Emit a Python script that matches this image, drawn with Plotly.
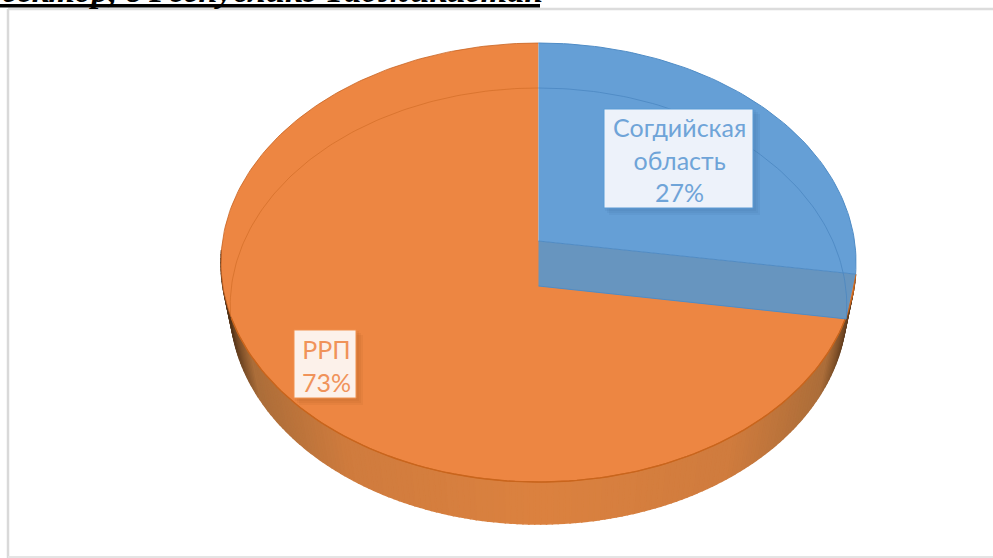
import numpy as np
import plotly.graph_objects as go

# data
categories = ["Согдийская<br>область", "РРП"]
shares = [27.4, 72.6]
heading = "сектор, в Республике Таджикистан"

BLUE = "#659fd6"
BLUE_BAND = "#6795bf"
ORANGE = "#ed8642"
RIM = "#c9651c"
WIDTH, HEIGHT = 993, 558
CX = 538.5


def make_face(y_far, y_mid, y_near, radius):
    """Perspective map of a unit disc to the page, returns theta -> x, y"""
    c = (2 * y_mid - y_far - y_near) / (y_far - y_near)
    a = y_far * (1 + c) - y_mid

    def face(theta_deg):
        t = np.radians(theta_deg)
        u, v = np.sin(t), np.cos(t)
        den = 1 + c * v
        return CX + radius * u / den, (a * v + y_mid) / den

    face.centre = (CX, y_mid)
    return face


top_face = make_face(43, 241, 482, 316)
low_face = make_face(88, 286, 524, 307)
split = shares[0] * 3.6
WALL_END = 268


def lerp_hex(c1, c2, t):
    a = [int(c1[i:i + 2], 16) for i in (1, 3, 5)]
    b = [int(c2[i:i + 2], 16) for i in (1, 3, 5)]
    return "rgb(%d,%d,%d)" % tuple(a[i] + (b[i] - a[i]) * t for i in range(3))


def wall_colour(x):
    # dark towards the two ends of the side wall
    t = abs(x - CX) / 310
    if t < 0.6:
        return lerp_hex("#dc8240", "#d07c3e", t / 0.6)
    if t < 0.9:
        return lerp_hex("#d07c3e", "#ac6e3a", (t - 0.6) / 0.3)
    return lerp_hex("#ac6e3a", "#4a2e16", min((t - 0.9) / 0.1, 1))


fig = go.Figure()


def add_poly(xs, ys, fill, line=None, width=0):
    fig.add_trace(go.Scatter(
        x=xs, y=ys, mode="lines", fill="toself", fillcolor=fill,
        line=dict(color=line or fill, width=width),
        showlegend=False, hoverinfo="skip",
    ))


def add_line(xs, ys, colour, width=1):
    fig.add_trace(go.Scatter(
        x=xs, y=ys, mode="lines", line=dict(color=colour, width=width),
        showlegend=False, hoverinfo="skip",
    ))


# side wall, cut in narrow strips to get the shading
steps = np.arange(split, WALL_END, 1.0)
for t0, t1 in zip(steps[:-1], steps[1:]):
    x0, y0 = top_face(t0)
    x1, y1 = top_face(t1)
    x2, y2 = low_face(t1)
    x3, y3 = low_face(t0)
    col = wall_colour((x2 + x3) / 2)
    add_poly([x0, x1, x2, x3, x0], [y0, y1, y2, y3, y0], col, col, 1.5)

# top of the orange slice
th = np.linspace(split, 360, 240)
ax, ay = top_face(th)
add_poly(np.r_[top_face.centre[0], ax, top_face.centre[0]],
         np.r_[top_face.centre[1], ay, top_face.centre[1]], ORANGE)
add_line(ax, ay, "rgba(200,100,35,0.8)", 1)
add_line(*top_face(np.linspace(split, 250, 120)), RIM, 1.4)
add_line(*low_face(np.linspace(262, 360, 100)), "rgba(205,105,35,0.6)", 1)

# top of the blue slice
th = np.linspace(0, split, 80)
ax, ay = top_face(th)
add_poly(np.r_[top_face.centre[0], ax, top_face.centre[0]],
         np.r_[top_face.centre[1], ay, top_face.centre[1]], BLUE)
add_line(ax, ay, "#4f8cc6", 1)

# cut face of the blue slice seen through the top
tx, ty = top_face(split)
lx, ly = low_face(split)
add_poly([top_face.centre[0], tx, lx, low_face.centre[0], top_face.centre[0]],
         [top_face.centre[1], ty, ly, low_face.centre[1], top_face.centre[1]],
         BLUE_BAND)
add_line([top_face.centre[0], tx], [top_face.centre[1], ty], "#4f8cc6", 1)
add_line([low_face.centre[0], lx], [low_face.centre[1], ly], "#4f8cc6", 1)
add_line(*low_face(np.linspace(0, split, 80)), "rgba(74,134,192,0.75)", 1)

shapes = [
    dict(type="line", x0=8, x1=8, y0=9, y1=HEIGHT, line=dict(color="#d9d9d9", width=2.5)),
    dict(type="line", x0=8, x1=WIDTH, y0=9, y1=9, line=dict(color="#dcdcdc", width=2.5)),
    dict(type="line", x0=8, x1=WIDTH, y0=557, y1=557, line=dict(color="#e4e4e4", width=2)),
    dict(type="rect", x0=0, x1=540, y0=4, y1=7.5, fillcolor="black", line=dict(width=0)),
]

label_boxes = [
    dict(box=(604, 109, 753, 208), fill="#edf2fa", edge="#5b9bd5", text="#6fa4d8",
         shadow="rgba(60,110,160,0.10)", size=25),
    dict(box=(294, 330, 356, 398), fill="#fcf1ea", edge="#f0914f", text="#f0935a",
         shadow="rgba(170,85,30,0.10)", size=25),
]

annotations = [dict(
    text="<b><i>%s</i></b>" % heading, x=0, y=11, xanchor="left", yanchor="bottom",
    showarrow=False, font=dict(family="Liberation Serif", size=34, color="black"),
)]

for cat, share, lb in zip(categories, shares, label_boxes):
    x0, y0, x1, y1 = lb["box"]
    for off in (7, 5, 3):
        shapes.append(dict(type="rect", x0=x0 + off - 2, x1=x1 + off, y0=y0 + off - 2, y1=y1 + off,
                           fillcolor=lb["shadow"], line=dict(width=0)))
    shapes.append(dict(type="rect", x0=x0, x1=x1, y0=y0, y1=y1, fillcolor=lb["fill"],
                       line=dict(color=lb["edge"], width=1)))
    annotations.append(dict(
        text="%s<br>%d%%" % (cat, round(share)),
        x=(x0 + x1) / 2 + 1, y=(y0 + y1) / 2 + 1, showarrow=False,
        xanchor="center", yanchor="middle",
        font=dict(family="Lato, Noto Sans", size=lb["size"], color=lb["text"]),
    ))

fig.update_layout(
    width=WIDTH, height=HEIGHT,
    margin=dict(l=0, r=0, t=0, b=0),
    paper_bgcolor="white", plot_bgcolor="white",
    xaxis=dict(range=[0, WIDTH], visible=False, fixedrange=True),
    yaxis=dict(range=[HEIGHT, 0], visible=False, fixedrange=True),
    shapes=shapes, annotations=annotations,
    showlegend=False,
)

# page has a default body margin, take it off
fig.write_html("out.html", config={"displayModeBar": False},
               post_script="document.body.style.margin='0';document.body.style.overflow='hidden';")
